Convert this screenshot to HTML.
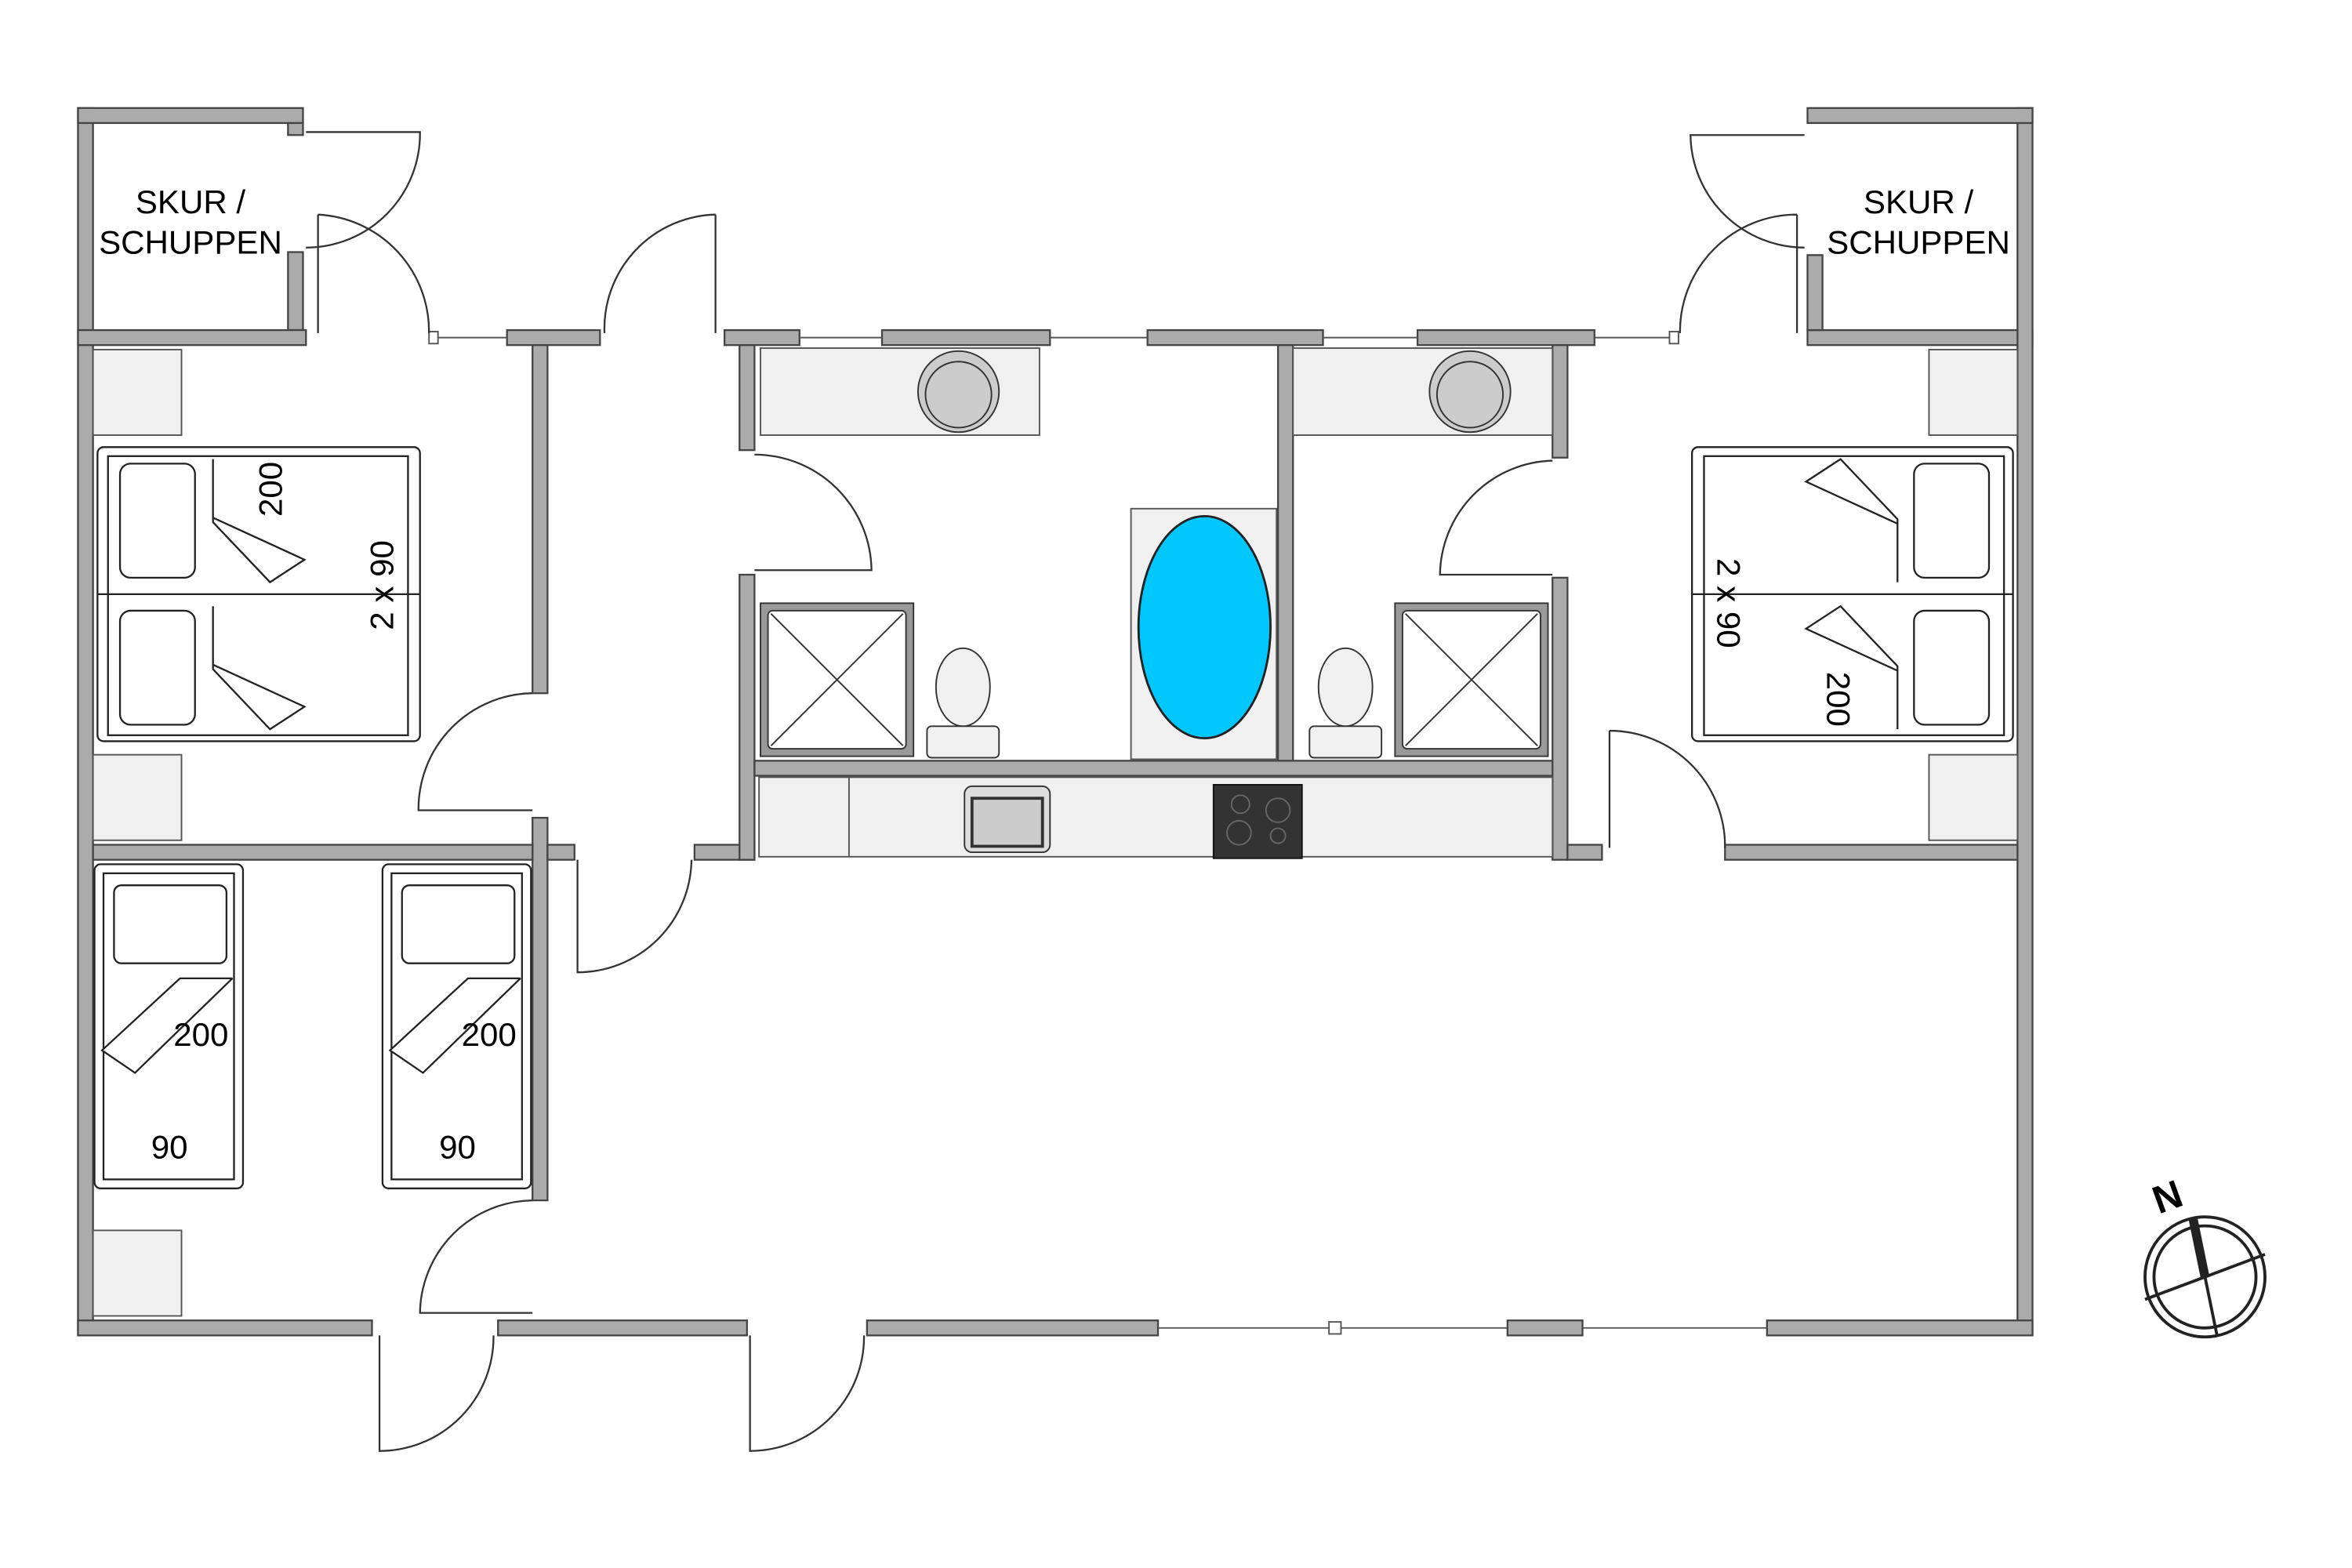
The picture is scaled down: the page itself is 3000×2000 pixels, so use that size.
<!DOCTYPE html>
<html><head><meta charset="utf-8"><style>
html,body{margin:0;padding:0;background:#fff;width:3000px;height:2000px;overflow:hidden}
svg{display:block}
text{font-family:"Liberation Sans",sans-serif;fill:#000}
</style></head><body>
<svg width="3000" height="2000" viewBox="0 0 1568 1045" preserveAspectRatio="none" xmlns="http://www.w3.org/2000/svg">
<rect width="1568" height="1045" fill="#fff"/>
<g fill="#ababab" stroke="#444" stroke-width="1.2">
<rect x="52" y="72" width="10" height="818"/>
<rect x="52" y="72" width="150" height="10"/>
<rect x="192" y="82" width="10" height="8"/>
<rect x="192" y="168" width="10" height="52"/>
<rect x="52" y="220" width="152" height="10"/>
<rect x="338" y="220" width="62" height="10"/>
<rect x="483" y="220" width="50" height="10"/>
<rect x="588" y="220" width="112" height="10"/>
<rect x="765" y="220" width="117" height="10"/>
<rect x="945" y="220" width="118" height="10"/>
<rect x="1205" y="220" width="150" height="10"/>
<rect x="1345" y="72" width="10" height="818"/>
<rect x="1205" y="72" width="150" height="10"/>
<rect x="1205" y="170" width="10" height="50"/>
<rect x="52" y="880" width="196" height="10"/>
<rect x="332" y="880" width="166" height="10"/>
<rect x="578" y="880" width="194" height="10"/>
<rect x="1005" y="880" width="50" height="10"/>
<rect x="1178" y="880" width="177" height="10"/>
<rect x="355" y="230" width="10" height="232"/>
<rect x="355" y="545" width="10" height="255"/>
<rect x="62" y="563" width="293" height="10"/>
<rect x="365" y="563" width="18" height="10"/>
<rect x="463" y="563" width="40" height="10"/>
<rect x="493" y="230" width="10" height="70"/>
<rect x="493" y="383" width="10" height="190"/>
<rect x="503" y="507" width="534" height="10"/>
<rect x="852" y="230" width="10" height="277"/>
<rect x="1035" y="230" width="10" height="75"/>
<rect x="1035" y="385" width="10" height="188"/>
<rect x="1045" y="563" width="23" height="10"/>
<rect x="1150" y="563" width="195" height="10"/>
</g>
<g stroke="#555" stroke-width="1" fill="#fff">
<line x1="292" y1="225" x2="338" y2="225"/>
<line x1="533" y1="225" x2="588" y2="225"/>
<line x1="700" y1="225" x2="765" y2="225"/>
<line x1="882" y1="225" x2="945" y2="225"/>
<line x1="1063" y1="225" x2="1118" y2="225"/>
<line x1="772" y1="885" x2="1005" y2="885"/>
<line x1="1055" y1="885" x2="1178" y2="885"/>
<rect x="286" y="221" width="6" height="8"/><rect x="1113" y="221" width="6" height="8"/>
<rect x="886" y="881" width="8" height="8"/>
</g>
<g fill="#f0f0f0" stroke="#555" stroke-width="1">
<rect x="62" y="233" width="59" height="57"/>
<rect x="62" y="503" width="59" height="57"/>
<rect x="62" y="820" width="59" height="57"/>
<rect x="1286" y="233" width="59" height="57"/>
<rect x="1286" y="503" width="59" height="57"/>
<rect x="507" y="232" width="186" height="58"/>
<rect x="862" y="232" width="173" height="58"/>
<rect x="754" y="339" width="97" height="167"/>
<rect x="506" y="518" width="529" height="53"/>
<line x1="566" y1="518" x2="566" y2="571"/>
</g>
<g stroke="#333" fill="#ccc">
<ellipse cx="639" cy="261" rx="27" ry="27"/><ellipse cx="639" cy="263" rx="22" ry="22"/>
<ellipse cx="980" cy="261" rx="27" ry="27"/><ellipse cx="980" cy="263" rx="22" ry="22"/>
<rect x="643" y="524" width="57" height="44" rx="5" fill="#ddd"/>
<rect x="648" y="532" width="47" height="32" fill="#ccc" stroke-width="2"/>
<rect x="809" y="523" width="59" height="49" fill="#333" stroke="#111"/>
</g>
<g fill="none" stroke="#666"><circle cx="827" cy="536" r="6"/><circle cx="852" cy="540" r="8"/><circle cx="826" cy="555" r="8"/><circle cx="852" cy="557" r="5"/></g>
<ellipse cx="803" cy="418" rx="44" ry="74" fill="#00c8ff" stroke="#222" stroke-width="1.5"/>
<g stroke="#333" fill="#fff">
<rect x="507" y="402" width="102" height="102" fill="#999"/>
<rect x="512" y="407" width="92" height="92" rx="3"/>
<line x1="514" y1="409" x2="602" y2="497"/><line x1="602" y1="409" x2="514" y2="497"/>
<rect x="930" y="402" width="102" height="102" fill="#999"/>
<rect x="935" y="407" width="92" height="92" rx="3"/>
<line x1="937" y1="409" x2="1025" y2="497"/><line x1="1025" y1="409" x2="937" y2="497"/>
<ellipse cx="642" cy="458" rx="18" ry="26" fill="#f0f0f0"/>
<rect x="618" y="484" width="48" height="21" rx="3" fill="#f0f0f0"/>
<ellipse cx="897" cy="458" rx="18" ry="26" fill="#f0f0f0"/>
<rect x="873" y="484" width="48" height="21" rx="3" fill="#f0f0f0"/>
</g>
<g fill="#fff" stroke="#222" stroke-width="1.2">
<rect x="65" y="298" width="215" height="196" rx="4"/>
<rect x="72" y="304" width="200" height="186"/>
<line x1="65" y1="396" x2="280" y2="396"/>
<rect x="80" y="309" width="50" height="76" rx="7"/>
<rect x="80" y="407" width="50" height="76" rx="7"/>
<polyline points="142,306 142,348 180,388 203,373 142,345"/>
<polyline points="142,404 142,446 180,486 203,471 142,443"/>
<rect x="1128" y="298" width="214" height="196" rx="4"/>
<rect x="1136" y="304" width="200" height="186"/>
<line x1="1128" y1="396" x2="1342" y2="396"/>
<rect x="1276" y="309" width="50" height="76" rx="7"/>
<rect x="1276" y="407" width="50" height="76" rx="7"/>
<polyline points="1265,388 1265,346 1227,306 1204,321 1265,349"/>
<polyline points="1265,486 1265,444 1227,404 1204,419 1265,447"/>
<rect x="63" y="576" width="99" height="216" rx="4"/>
<rect x="69" y="582" width="87" height="204"/>
<rect x="76" y="590" width="75" height="52" rx="5"/>
<polyline points="155,652 120,652 68,700 90,715 155,652"/>
<rect x="255" y="576" width="99" height="216" rx="4"/>
<rect x="261" y="582" width="87" height="204"/>
<rect x="268" y="590" width="75" height="52" rx="5"/>
<polyline points="347,652 312,652 260,700 282,715 347,652"/>
</g>
<g fill="none" stroke="#333" stroke-width="1.2">
<path d="M212,143 L212,222 M212,143 A78,78 0 0 1 286,222"/>
<path d="M204,88 L280,88 A76,76 0 0 1 204,165"/>
<path d="M477,143 L477,222 M477,143 A76,76 0 0 0 403,222"/>
<path d="M355,462 A77,77 0 0 0 279,540 L355,540"/>
<path d="M503,303 A78,78 0 0 1 581,380 L503,380"/>
<path d="M1035,307 A77,77 0 0 0 960,383 L1035,383"/>
<path d="M1073,487 L1073,565 M1073,487 A77,77 0 0 1 1150,565"/>
<path d="M385,573 L385,648 A76,76 0 0 0 461,573"/>
<path d="M355,800 A76,76 0 0 0 280,875 L355,875"/>
<path d="M253,890 L253,967 A76,76 0 0 0 329,890"/>
<path d="M500,890 L500,967 A76,76 0 0 0 576,890"/>
<path d="M1198,143 L1198,222 M1198,143 A78,78 0 0 0 1120,222"/>
<path d="M1203,90 L1127,90 A76,76 0 0 0 1203,165"/>
</g>
<g font-size="22">
<text x="127" y="142" text-anchor="middle">SKUR /</text>
<text x="127" y="169" text-anchor="middle">SCHUPPEN</text>
<text x="1279" y="142" text-anchor="middle">SKUR /</text>
<text x="1279" y="169" text-anchor="middle">SCHUPPEN</text>
<text x="134" y="697" text-anchor="middle">200</text>
<text x="326" y="697" text-anchor="middle">200</text>
<text x="113" y="772" text-anchor="middle">90</text>
<text x="305" y="772" text-anchor="middle">90</text>
<text transform="translate(188,326) rotate(-90)" text-anchor="middle">200</text>
<text transform="translate(262,390) rotate(-90)" text-anchor="middle">2 x 90</text>
<text transform="translate(1145,402) rotate(90)" text-anchor="middle">2 x 90</text>
<text transform="translate(1218,466) rotate(90)" text-anchor="middle">200</text>
</g>
<g fill="none" stroke="#222" stroke-width="2">
<circle cx="1470" cy="851" r="40"/><circle cx="1470" cy="851" r="34"/>
<line x1="1430" y1="866" x2="1510" y2="836"/>
<line x1="1462" y1="812" x2="1478" y2="890" stroke-width="2"/>
<line x1="1462" y1="812" x2="1470" y2="851" stroke-width="6"/>
</g>
<text transform="translate(1448,806) rotate(-20)" font-size="26" font-weight="bold" text-anchor="middle">N</text>
</svg>
</body></html>
